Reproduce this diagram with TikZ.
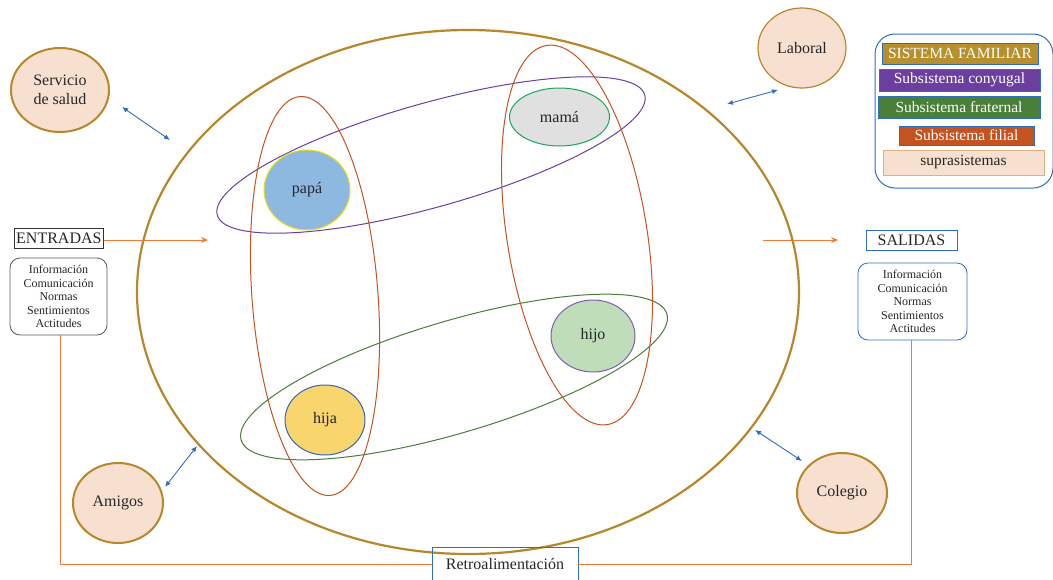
\documentclass[tikz,border=0pt]{standalone}
\usepackage{fontspec}
\setmainfont{Liberation Serif}
\usetikzlibrary{shapes.geometric,arrows.meta}
\definecolor{gold}{HTML}{B8862B}
\definecolor{peach}{HTML}{F8E0D0}
\definecolor{linkblue}{HTML}{2F6EBF}
\definecolor{flow}{HTML}{F07A3A}
\definecolor{conyugal}{HTML}{6A3FA0}
\definecolor{fraternal}{HTML}{4A7F38}
\definecolor{filial}{HTML}{C4531F}
\definecolor{txt}{HTML}{262626}
\tikzset{
  supra/.style={ellipse, draw=gold, fill=peach, line width=2pt, inner sep=0pt,
    text=txt, font=\fontsize{16}{19}\selectfont, align=center},
  member/.style={ellipse, inner sep=0pt, text=txt, font=\fontsize{16}{19}\selectfont, line width=1pt},
  link/.style={linkblue, line width=0.9pt, {Latex[length=6pt,width=5pt]}-{Latex[length=6pt,width=5pt]}},
  flowline/.style={flow, line width=1pt},
  label box/.style={draw, inner sep=2pt, text=txt, font=\fontsize{16}{19}\selectfont, minimum height=20pt},
  listbox/.style={draw, line width=0.8pt, rounded corners=10pt, align=center, text=txt,
    font=\fontsize{12}{13.5}\selectfont, inner sep=4pt},
  legend item/.style={draw=linkblue, line width=0.8pt, text=white, inner sep=2pt,
    font=\fontsize{15.5}{18}\selectfont},
}
\begin{document}
\begin{tikzpicture}[x=1pt,y=-1pt]
\useasboundingbox (0,0) rectangle (1053,579);

% family system and its subsystems
\draw[gold, line width=2.2pt] (468,292) ellipse [x radius=331, y radius=262];
\draw[conyugal, line width=1pt, rotate around={15.7:(431,155)}] (431,155) ellipse [x radius=222, y radius=52];
\draw[fraternal, line width=1pt, rotate around={16.5:(454,377)}] (454,377) ellipse [x radius=222, y radius=56];
\draw[filial, line width=1pt, rotate around={4.3:(315,296)}] (315,296) ellipse [x radius=63, y radius=200];
\draw[filial, line width=1pt, rotate around={9.1:(577,235)}] (577,235) ellipse [x radius=70, y radius=192];

% members
\node[member, draw={rgb,255:red,240;green,225;blue,20}, fill={rgb,255:red,141;green,185;blue,224},
  minimum width=86pt, minimum height=80pt] (papa) at (307,190) {papá};
\node[member, draw={rgb,255:red,25;green,165;blue,90}, fill={rgb,255:red,224;green,224;blue,224},
  minimum width=100pt, minimum height=58pt] (mama) at (559.5,117) {mamá};
\node[member, draw={rgb,255:red,125;green,95;blue,178}, fill={rgb,255:red,190;green,221;blue,184},
  minimum width=84pt, minimum height=72pt] (hijo) at (593,336) {hijo};
\node[member, draw={rgb,255:red,53;green,102;blue,176}, fill={rgb,255:red,249;green,213;blue,110},
  minimum width=80pt, minimum height=70pt] (hija) at (325,420) {hija};

% suprasystems
\node[supra, minimum width=98pt, minimum height=84pt] (salud) at (60,90) {Servicio\\de salud};
\node[supra, line width=1.2pt, minimum width=88pt, minimum height=80pt] (laboral) at (802,48) {Laboral};
\node[supra, minimum width=90pt, minimum height=80pt] (amigos) at (118,503) {Amigos};
\node[supra, minimum width=90pt, minimum height=80pt] (colegio) at (842,493) {Colegio};

\coordinate (s1) at (170,140);
\coordinate (l1) at (727,104);
\coordinate (a1) at (197,446);
\coordinate (c1) at (755,430);
\coordinate (s0) at (122,107);
\coordinate (l0) at (778,90);
\coordinate (a0) at (165,487);
\coordinate (c0) at (802,461);
\draw[link] (s0) -- (s1);
\draw[link] (l0) -- (l1);
\draw[link] (a0) -- (a1);
\draw[link] (c0) -- (c1);

% inputs and outputs
\node[label box, draw=black!80, anchor=west] (entradas) at (14,238) {ENTRADAS};
\node[listbox, draw=black!65, minimum width=97pt, minimum height=77pt] (inlist) at (58.5,296.5)
  {Información\\Comunicación\\Normas\\Sentimientos\\Actitudes};
\coordinate (inhead) at (208,240);
\draw[flowline, -{Stealth[length=7pt,width=6pt]}] (entradas.east |- inhead) -- (inhead);

\node[label box, draw=linkblue, minimum width=91pt] (salidas) at (911.5,240.5) {SALIDAS};
\node[listbox, draw=linkblue, minimum width=109pt, minimum height=77pt] (outlist) at (912.5,301.5)
  {Información\\Comunicación\\Normas\\Sentimientos\\Actitudes};
\coordinate (outtail) at (763,240);
\coordinate (outhead) at (838,240);
\draw[flowline, -{Stealth[length=7pt,width=6pt]}] (outtail) -- (outhead);

% feedback loop
\node[label box, draw=linkblue, minimum width=146pt, minimum height=33pt] (retro) at (505,564) {Retroalimentación};
\draw[flowline] (inlist.south -| 60,0) |- (retro.west);
\draw[flowline] (retro.east) -| (outlist.south -| 911,0);

% legend
\node[draw=linkblue, line width=1pt, rounded corners=20pt, minimum width=178pt, minimum height=154pt] (legend) at (964,111) {};
\node[legend item, fill={rgb,255:red,184;green,144;blue,43}, minimum width=156pt, minimum height=21pt] (lsf) at (960,53.5) {SISTEMA FAMILIAR};
\node[legend item, fill=conyugal, minimum width=161pt, minimum height=22pt] (lsc) at (959.5,80) {Subsistema conyugal};
\node[legend item, fill=fraternal, minimum width=162pt, minimum height=22pt] (lsfr) at (959,107) {Subsistema fraternal};
\node[legend item, fill=filial, minimum width=135pt, minimum height=19pt] (lsfi) at (966.5,135.5) {Subsistema filial};
\node[legend item, draw={rgb,255:red,224;green,176;blue,128}, fill=peach, text=txt, minimum width=161pt, minimum height=25pt] (lsup) at (963.5,162.5) {suprasistemas};
\end{tikzpicture}
\end{document}
